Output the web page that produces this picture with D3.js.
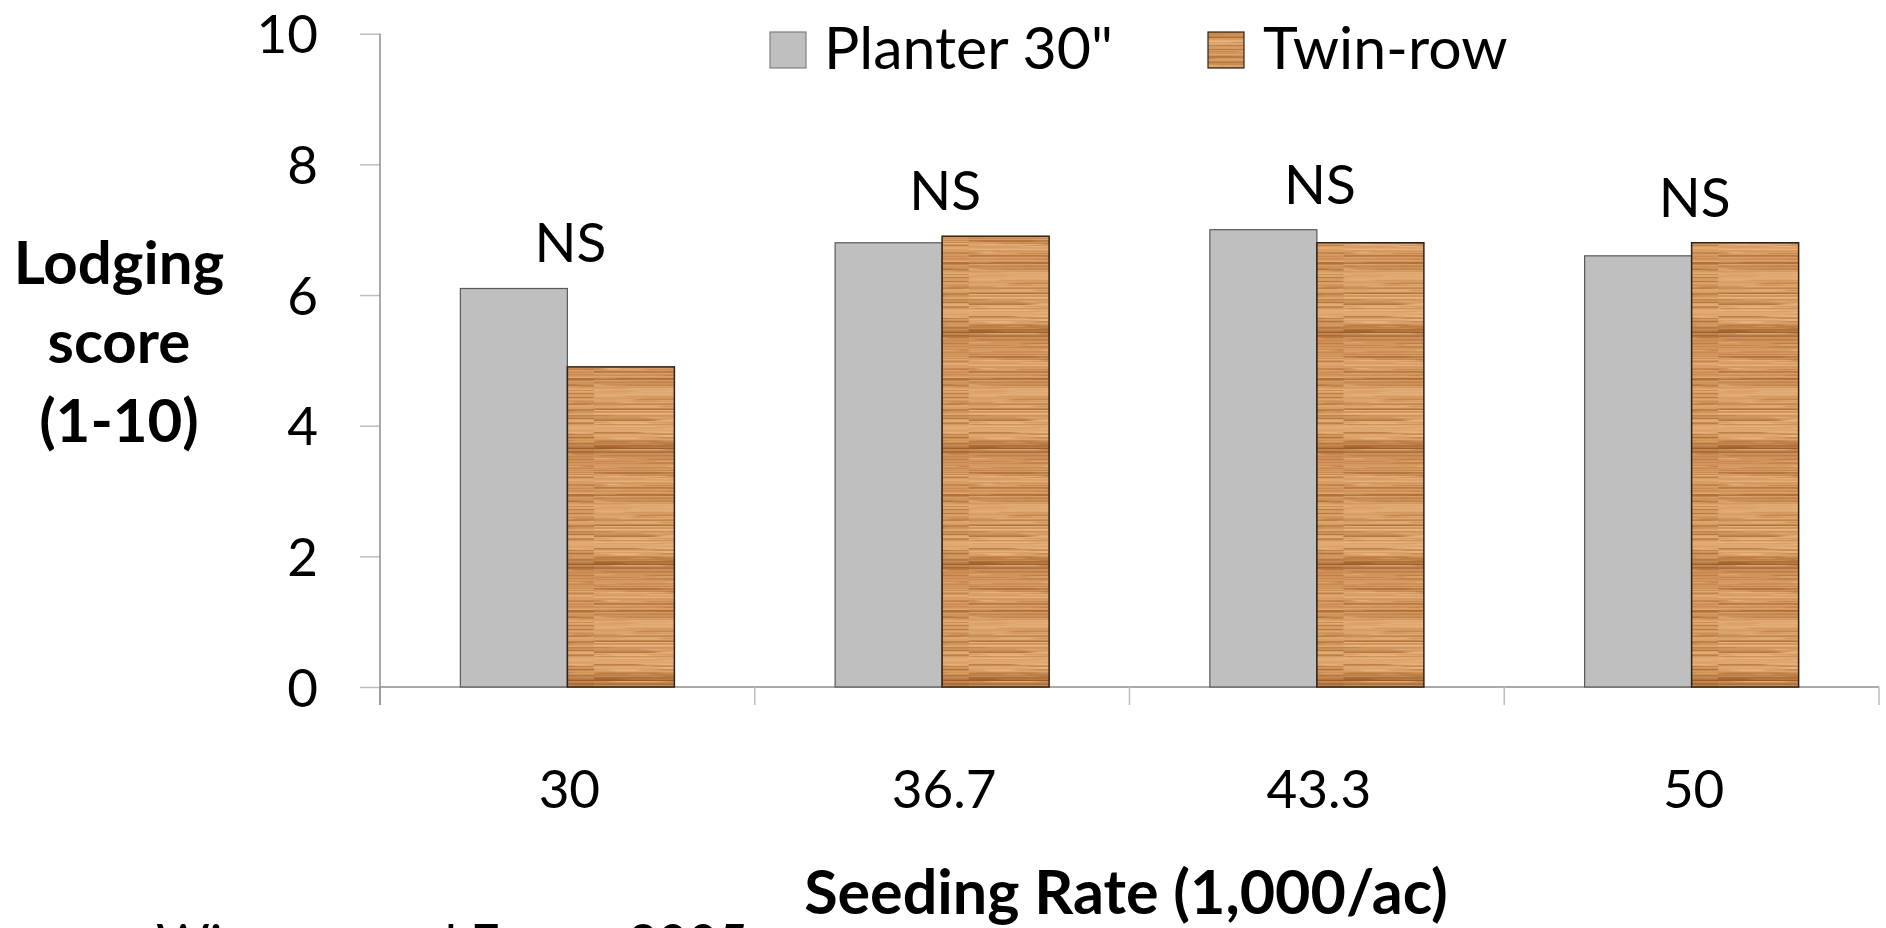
<!DOCTYPE html>
<html>
<head>
<meta charset="utf-8">
<script src="https://cdn.jsdelivr.net/npm/d3@7/dist/d3.min.js"></script>
<style>
  html, body { margin: 0; padding: 0; background: #ffffff; }
  svg { display: block; }
  text { font-family: Lato, "Open Sans", sans-serif; fill: #000; }
</style>
</head>
<body>
<svg id="chart" width="1886" height="928"></svg>
<script>
// Lodging score by seeding rate, 30" planter vs twin-row
const categories = ["30", "36.7", "43.3", "50"];
const seriesNames = ["Planter 30\"", "Twin-row"];
const planter30 = [6.1, 6.8, 7.0, 6.6];
const twinRow = [4.9, 6.9, 6.8, 6.8];
const significance = ["NS", "NS", "NS", "NS"];
const yTicks = [0, 2, 4, 6, 8, 10];
const sourceNote = "Wiersma and Evans, 2005";

const svg = d3.select("#chart");
const plot = { left: 380, right: 1879, top: 33.7, bottom: 687 };

const x0 = d3.scaleBand().domain(categories).range([plot.left, plot.right]).paddingInner(0).paddingOuter(0);
const x1 = d3.scaleBand().domain(seriesNames).range([0, x0.bandwidth()]).paddingInner(0).paddingOuter(0.751);
const y = d3.scaleLinear().domain([0, 10]).range([plot.bottom, plot.top]);

// ---- wood-grain fill for the twin-row bars ----
const defs = svg.append("defs");
const period = 116;
const pw = 214;

const soften = defs.append("filter").attr("id", "grainSoft")
  .attr("x", "-5%").attr("y", "-50%").attr("width", "110%").attr("height", "200%");
soften.append("feGaussianBlur").attr("stdDeviation", "3 0.35");

const wood = defs.append("pattern")
  .attr("id", "wood")
  .attr("patternUnits", "userSpaceOnUse")
  .attr("x", 0).attr("y", y(0))
  .attr("width", pw).attr("height", period);

// vertical tone profile across one grain period
const tone = defs.append("linearGradient").attr("id", "woodTone")
  .attr("x1", 0).attr("y1", 0).attr("x2", 0).attr("y2", 1);
[
  [0.00, "#cf8e56"], [0.08, "#d69960"], [0.30, "#dba068"], [0.55, "#dda56c"],
  [0.75, "#e2ac74"], [0.86, "#dba067"], [0.90, "#c08044"], [0.93, "#a5652f"],
  [0.955, "#985926"], [0.98, "#b27340"], [1.00, "#c8874e"]
].forEach(([o, c]) => tone.append("stop").attr("offset", o).attr("stop-color", c));
wood.append("rect").attr("width", pw).attr("height", period).attr("fill", "url(#woodTone)");

// fine horizontal grain streaks (deterministic generator)
const grain = wood.append("g").attr("filter", "url(#grainSoft)");
let seed = 11;
const rnd = () => { seed = (seed * 16807) % 2147483647; return (seed - 1) / 2147483646; };
for (let i = 0; i < 260; i++) {
  const yy = rnd() * period;
  const len = 40 + rnd() * 190;
  const xx = rnd() * pw - 60;
  const r = rnd();
  const col = r < 0.45 ? "#a9692f" : (r < 0.7 ? "#c48449" : "#f0c190");
  grain.append("rect")
    .attr("x", xx).attr("y", yy)
    .attr("width", len).attr("height", 0.6 + rnd() * 1.0)
    .attr("fill", col)
    .attr("opacity", 0.25 + rnd() * 0.45);
}

// ---- axes ----
const axisColor = "#8c8c8c";

// horizontal category axis with boundary ticks
svg.append("line")
  .attr("x1", plot.left).attr("x2", plot.right)
  .attr("y1", y(0)).attr("y2", y(0))
  .attr("stroke", axisColor).attr("stroke-width", 1.5);
const boundaries = categories.map(c => x0(c)).concat([x0(categories[categories.length - 1]) + x0.bandwidth()]);
svg.selectAll(".xtick").data(boundaries).enter().append("line")
  .attr("x1", d => d).attr("x2", d => d)
  .attr("y1", y(0)).attr("y2", y(0) + 18)
  .attr("stroke", "#bdbdbd").attr("stroke-width", 1.5);

// vertical value axis
const yAxis = d3.axisLeft(y).tickValues(yTicks).tickSize(20).tickPadding(42).tickFormat(d3.format("d"));
const gy = svg.append("g").attr("transform", `translate(${plot.left},0)`).call(yAxis);
gy.select(".domain").remove();
gy.selectAll(".tick line").attr("stroke", "#bdbdbd").attr("stroke-width", 1.5);
gy.selectAll(".tick text")
  .attr("font-family", "Lato, sans-serif").attr("font-size", 53).attr("fill", "#000")
  .attr("dy", "0.36em");
svg.append("line")
  .attr("x1", plot.left).attr("x2", plot.left)
  .attr("y1", y(10)).attr("y2", y(0) + 18)
  .attr("stroke", axisColor).attr("stroke-width", 1.5);

// ---- bars ----
const groups = svg.selectAll(".grp").data(categories).enter().append("g")
  .attr("transform", d => `translate(${x0(d)},0)`);

groups.append("rect")
  .attr("x", x1(seriesNames[0]))
  .attr("y", (d, i) => y(planter30[i]))
  .attr("width", x1.bandwidth())
  .attr("height", (d, i) => y(0) - y(planter30[i]))
  .attr("fill", "#bfbfbf")
  .attr("stroke", "#595959").attr("stroke-width", 1.2);

groups.append("rect")
  .attr("x", x1(seriesNames[1]))
  .attr("y", (d, i) => y(twinRow[i]))
  .attr("width", x1.bandwidth())
  .attr("height", (d, i) => y(0) - y(twinRow[i]))
  .attr("fill", "url(#wood)")
  .attr("stroke", "#2e2216").attr("stroke-width", 1.5);

// significance labels above each pair
groups.append("text")
  .attr("x", x0.bandwidth() / 2 + 3)
  .attr("y", (d, i) => y(Math.max(planter30[i], twinRow[i])) - 26)
  .attr("text-anchor", "middle")
  .attr("font-size", 55)
  .text((d, i) => significance[i]);

// category labels
groups.append("text")
  .attr("x", x0.bandwidth() / 2 + 2)
  .attr("y", 808)
  .attr("text-anchor", "middle")
  .attr("font-size", 53)
  .text(d => d);

// ---- titles ----
svg.append("text")
  .attr("x", 1126).attr("y", 914)
  .attr("text-anchor", "middle")
  .attr("font-size", 61).attr("font-weight", 700)
  .text("Seeding Rate (1,000/ac)");

const yTitle = svg.append("text")
  .attr("text-anchor", "middle")
  .attr("font-size", 60).attr("font-weight", 700);
["Lodging", "score", "(1-10)"].forEach((t, i) => {
  yTitle.append("tspan").attr("x", 119).attr("y", 284 + i * 79).text(t);
});

// ---- legend ----
const legend = svg.append("g");
const legendItems = [
  { name: seriesNames[0], box: 770, text: 824, fill: "#bfbfbf", stroke: "#7f7f7f" },
  { name: seriesNames[1], box: 1208, text: 1263, fill: "url(#wood)", stroke: "#2e2216" }
];
legendItems.forEach(it => {
  legend.append("rect")
    .attr("x", it.box).attr("y", 32).attr("width", 36).attr("height", 36)
    .attr("fill", it.fill).attr("stroke", it.stroke).attr("stroke-width", 1.2);
  legend.append("text")
    .attr("x", it.text).attr("y", 69)
    .attr("font-size", 59)
    .text(it.name);
});

// source note along the bottom edge
svg.append("text")
  .attr("x", 156).attr("y", 962)
  .attr("font-size", 52)
  .text(sourceNote);
</script>
</body>
</html>
